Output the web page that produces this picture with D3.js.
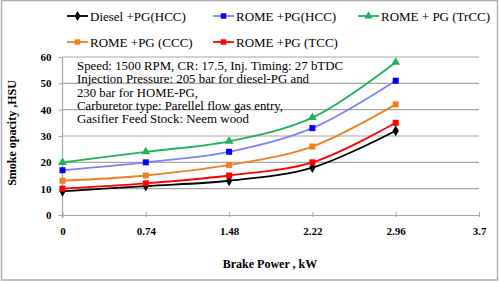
<!DOCTYPE html>
<html>
<head>
<meta charset="utf-8">
<script src="https://cdn.jsdelivr.net/npm/d3@7"></script>
<style>
  body { margin: 0; background: #fff; }
  text { font-family: "Liberation Serif", "Times New Roman", serif; }
</style>
</head>
<body>
<div id="chart"></div>
<script>
// data
var power = [0, 0.74, 1.48, 2.22, 2.96];
var xTicks = [0, 0.74, 1.48, 2.22, 2.96, 3.7];
var yTicks = [0, 10, 20, 30, 40, 50, 60];
var dieselHCC = [9, 11, 13, 18, 32];
var romeHCC = [17, 20, 24, 33, 51];
var romeTrCC = [20, 24, 28, 37, 58];
var romeCCC = [13, 15, 19, 26, 42];
var romeTCC = [10, 12, 15, 20, 35];
var note = [
  "Speed: 1500 RPM, CR: 17.5, Inj. Timing:  27 bTDC",
  "Injection Pressure:  205 bar for diesel-PG and",
  "230 bar for HOME-PG,",
  "Carburetor type: Parellel  flow gas  entry,",
  "Gasifier Feed Stock: Neem wood"
];
var noteWidths = [266, 232, 121, 206, 172];

var series = [
  {name: "Diesel +PG(HCC)", values: dieselHCC, line: "#000000", fill: "#000000", shape: "diamond", lx: 67, ly: 16},
  {name: "ROME +PG(HCC)", values: romeHCC, line: "#8080ff", fill: "#0000ff", shape: "square", lx: 213, ly: 16},
  {name: "ROME + PG (TrCC)", values: romeTrCC, line: "#1fb25a", fill: "#1fb25a", shape: "triangle", lx: 358, ly: 16},
  {name: "ROME +PG (CCC)", values: romeCCC, line: "#f07f20", fill: "#f07f20", shape: "square", lx: 67, ly: 42},
  {name: "ROME +PG (TCC)", values: romeTCC, line: "#ff0000", fill: "#ff0000", shape: "square", lx: 213, ly: 42}
];

var W = 499, H = 282;
var svg = d3.select("#chart").append("svg")
    .attr("width", W)
    .attr("height", H);

// outer frame
svg.append("rect")
    .attr("x", 1.5).attr("y", 0.5)
    .attr("width", W - 3).attr("height", H - 2.5)
    .attr("fill", "#fff")
    .attr("stroke", "#b0b0b0")
    .attr("stroke-width", 1.5);

var x = d3.scaleLinear().domain([0, 3.7]).range([62.5, 479]);
var y = d3.scaleLinear().domain([0, 60]).range([215, 57]);

// gridlines
svg.append("g")
    .selectAll("line")
    .data(yTicks.filter(function(d) { return d > 0; }))
    .enter().append("line")
    .attr("x1", x(0)).attr("x2", x(3.7))
    .attr("y1", function(d) { return y(d); })
    .attr("y2", function(d) { return y(d); })
    .attr("stroke", "#a6a6a6")
    .attr("stroke-width", 1.2);

// axes
var xAxis = svg.append("g")
    .attr("transform", "translate(0," + y(0) + ")")
    .call(d3.axisBottom(x).tickValues(xTicks).tickSize(0).tickPadding(12)
        .tickFormat(function(d) { return String(d); }));
xAxis.select(".domain").attr("stroke", "#a6a6a6").attr("stroke-width", 1.2);
xAxis.selectAll(".tick").append("line")
    .attr("y1", -3).attr("y2", 2)
    .attr("stroke", "#a6a6a6");
xAxis.selectAll("text")
    .attr("font-family", "Liberation Serif")
    .attr("font-weight", "bold")
    .attr("font-size", 11)
    .attr("fill", "#000");

var yAxis = svg.append("g")
    .attr("transform", "translate(" + x(0) + ",0)")
    .call(d3.axisLeft(y).tickValues(yTicks).tickSize(4).tickPadding(7));
yAxis.select(".domain").attr("d", "M0," + y(60) + "V" + (y(0) + 3))
    .attr("stroke", "#a6a6a6").attr("stroke-width", 1.2);
yAxis.selectAll(".tick line").attr("stroke", "#a6a6a6");
yAxis.selectAll("text")
    .attr("font-family", "Liberation Serif")
    .attr("font-weight", "bold")
    .attr("font-size", 11)
    .attr("fill", "#000");

// axis titles
svg.append("text")
    .attr("x", 270).attr("y", 268)
    .attr("text-anchor", "middle")
    .attr("font-weight", "bold")
    .attr("font-size", 12)
    .text("Brake Power , kW");

svg.append("text")
    .attr("transform", "translate(16,133) rotate(-90)")
    .attr("text-anchor", "middle")
    .attr("font-weight", "bold")
    .attr("font-size", 12)
    .text("Smoke opacity ,HSU");

// note
svg.append("g").selectAll("text")
    .data(note)
    .enter().append("text")
    .attr("x", 77)
    .attr("y", function(d, i) { return 70 + i * 13.3; })
    .attr("font-size", 12)
    .attr("textLength", function(d, i) { return noteWidths[i]; })
    .attr("lengthAdjust", "spacingAndGlyphs")
    .text(function(d) { return d; });

// lines
var line = d3.line()
    .x(function(d) { return x(d[0]); })
    .y(function(d) { return y(d[1]); })
    .curve(d3.curveCatmullRom.alpha(0.5));

function symbolFor(shape, size) {
  var t = shape === "diamond" ? d3.symbolDiamond : shape === "triangle" ? d3.symbolTriangle : d3.symbolSquare;
  return d3.symbol().type(t).size(size)();
}

series.forEach(function(s) {
  var pts = power.map(function(p, i) { return [p, s.values[i]]; });
  svg.append("path")
      .attr("d", line(pts))
      .attr("fill", "none")
      .attr("stroke", s.line)
      .attr("stroke-width", 1.8);
  svg.append("g").selectAll("path")
      .data(pts)
      .enter().append("path")
      .attr("transform", function(d) { return "translate(" + x(d[0]) + "," + y(d[1]) + ")"; })
      .attr("d", symbolFor(s.shape, s.shape === "square" ? 36 : 34))
      .attr("fill", s.fill);
});

// legend
var leg = svg.append("g");
series.forEach(function(s) {
  var g = leg.append("g").attr("transform", "translate(" + s.lx + "," + s.ly + ")");
  g.append("line")
      .attr("x1", 0).attr("x2", 21)
      .attr("stroke", s.line)
      .attr("stroke-width", 1.8);
  g.append("path")
      .attr("transform", "translate(10.5,0)")
      .attr("d", symbolFor(s.shape, 30))
      .attr("fill", s.fill);
  g.append("text")
      .attr("x", 23).attr("y", 4.5)
      .attr("font-size", 13)
      .text(s.name);
});
</script>
</body>
</html>
